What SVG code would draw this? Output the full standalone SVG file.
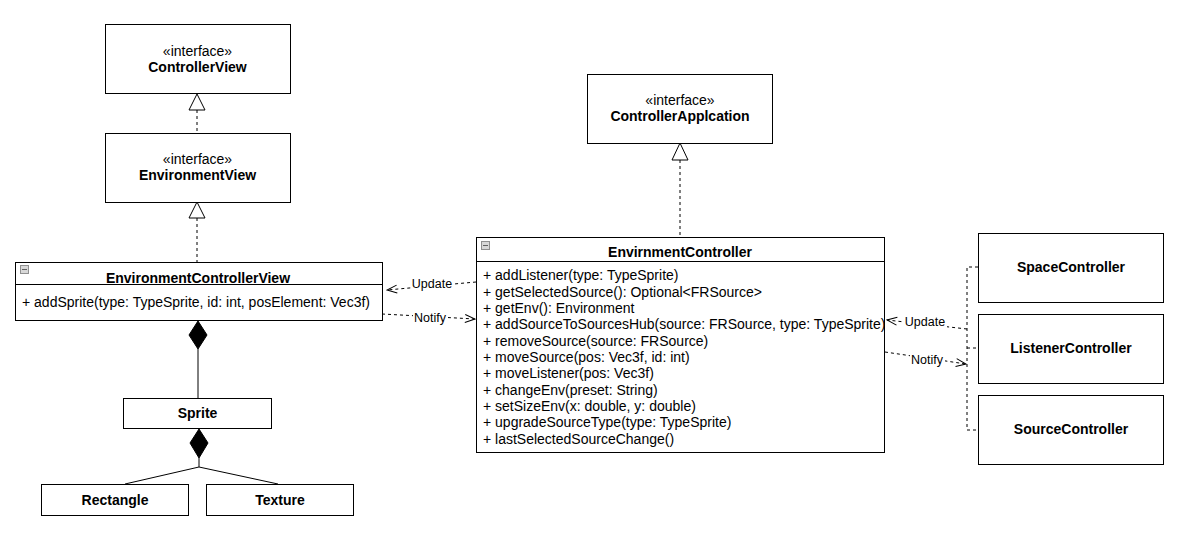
<svg xmlns="http://www.w3.org/2000/svg" width="1191" height="545" viewBox="0 0 1191 545">
  <style>
    .box { fill: #ffffff; stroke: #000000; stroke-width: 1; }
    .sep { stroke: #000000; stroke-width: 1; }
    .t { font-family: "Liberation Sans", Arial, sans-serif; font-size: 14px; fill: #000000; }
    .b { font-weight: bold; }
    .c { text-anchor: middle; }
    .lbl { font-family: "Liberation Sans", Arial, sans-serif; font-size: 12.5px; fill: #000000; text-anchor: middle; }
    .lblbg { fill: #ffffff; }
    .dash { fill: none; stroke: #000000; stroke-width: 1; stroke-dasharray: 3 3; }
    .solid { fill: none; stroke: #000000; stroke-width: 1; }
    .hollow { fill: #ffffff; stroke: #000000; stroke-width: 1; }
    .filled { fill: #000000; stroke: #000000; stroke-width: 1; }
    .icon { fill: #d8d8d8; stroke: #909090; stroke-width: 1; }
  </style>
  <defs>
    <marker id="open" viewBox="0 0 12 10" refX="11" refY="5" markerWidth="12" markerHeight="10" markerUnits="userSpaceOnUse" orient="auto">
      <path d="M1,1 L11,5 L1,9" fill="none" stroke="#000000" stroke-width="1"/>
    </marker>
  </defs>

  <!-- connectors -->
  <g id="connectors">
    <!-- realization: EnvironmentView -> ControllerView -->
    <line class="dash" x1="197" y1="110" x2="197" y2="133"/>
    <polygon class="hollow" points="197,94 205,110 189,110"/>
    <!-- realization: EnvironmentControllerView -> EnvironmentView -->
    <line class="dash" x1="197" y1="218" x2="197" y2="262"/>
    <polygon class="hollow" points="197,202 205,218 189,218"/>
    <!-- realization: EnvirnmentController -> ControllerApplcation -->
    <line class="dash" x1="680" y1="160" x2="680" y2="237"/>
    <polygon class="hollow" points="680,143 688,160 672,160"/>

    <!-- composition: EnvironmentControllerView <> Sprite -->
    <line class="solid" x1="198" y1="349" x2="198" y2="398"/>
    <polygon class="filled" points="198,321 207,335 198,349 189,335"/>
    <!-- composition: Sprite <> Rectangle / Texture -->
    <polyline class="solid" points="199,458 199,467 125,484"/>
    <line class="solid" x1="199" y1="467" x2="278" y2="484"/>
    <polygon class="filled" points="199,429 208,443 199,458 190,443"/>

    <!-- Update / Notify between EnvirnmentController and EnvironmentControllerView -->
    <line class="dash" x1="476" y1="282" x2="387" y2="290" marker-end="url(#open)"/>
    <rect class="lblbg" x="411" y="277" width="43" height="13"/>
    <text class="lbl" x="432" y="288">Update</text>
    <line class="dash" x1="382" y1="314" x2="475" y2="319" marker-end="url(#open)"/>
    <rect class="lblbg" x="413" y="311" width="35" height="13"/>
    <text class="lbl" x="430" y="322">Notify</text>

    <!-- bus joining the three controllers -->
    <polyline class="dash" points="978,267 967,267 967,430 978,430"/>
    <line class="dash" x1="967" y1="348" x2="978" y2="348"/>
    <!-- Update / Notify between controllers and EnvirnmentController -->
    <line class="dash" x1="967" y1="329" x2="887" y2="320" marker-end="url(#open)"/>
    <rect class="lblbg" x="904" y="315" width="43" height="13"/>
    <text class="lbl" x="925" y="326">Update</text>
    <line class="dash" x1="885" y1="352" x2="966" y2="364" marker-end="url(#open)"/>
    <rect class="lblbg" x="910" y="353" width="35" height="13"/>
    <text class="lbl" x="927" y="364">Notify</text>
  </g>

  <!-- interfaces -->
  <g id="ControllerView">
    <rect class="box" x="105.5" y="24.5" width="185" height="69"/>
    <text class="t c" x="197.5" y="56">«interface»</text>
    <text class="t b c" x="197.5" y="72">ControllerView</text>
  </g>
  <g id="EnvironmentView">
    <rect class="box" x="105.5" y="133.5" width="185" height="69"/>
    <text class="t c" x="197.5" y="164">«interface»</text>
    <text class="t b c" x="197.5" y="180">EnvironmentView</text>
  </g>
  <g id="ControllerApplcation">
    <rect class="box" x="587.5" y="74.5" width="185" height="69"/>
    <text class="t c" x="680" y="105">«interface»</text>
    <text class="t b c" x="680" y="121">ControllerApplcation</text>
  </g>

  <!-- classes -->
  <g id="EnvironmentControllerView">
    <rect class="box" x="15.5" y="262.5" width="367" height="58"/>
    <line class="sep" x1="15.5" y1="284.5" x2="382.5" y2="284.5"/>
    <rect class="icon" x="20.5" y="265.5" width="8" height="8"/>
    <line x1="22" y1="269.5" x2="27" y2="269.5" stroke="#606060" stroke-width="1"/>
    <text class="t b c" x="198" y="283">EnvironmentControllerView</text>
    <text class="t" x="22" y="307">+ addSprite(type: TypeSprite, id: int, posElement: Vec3f)</text>
  </g>

  <g id="EnvirnmentController">
    <rect class="box" x="476.5" y="237.5" width="408" height="215"/>
    <line class="sep" x1="476.5" y1="261.5" x2="884.5" y2="261.5"/>
    <rect class="icon" x="481.5" y="241.5" width="8" height="8"/>
    <line x1="483" y1="245.5" x2="488" y2="245.5" stroke="#606060" stroke-width="1"/>
    <text class="t b c" x="680" y="257">EnvirnmentController</text>
    <text class="t" x="483" y="280">+ addListener(type: TypeSprite)</text>
    <text class="t" x="483" y="296.5">+ getSelectedSource(): Optional&lt;FRSource&gt;</text>
    <text class="t" x="483" y="312.5">+ getEnv(): Environment</text>
    <text class="t" x="483" y="329">+ addSourceToSourcesHub(source: FRSource, type: TypeSprite)</text>
    <text class="t" x="483" y="345.5">+ removeSource(source: FRSource)</text>
    <text class="t" x="483" y="361.5">+ moveSource(pos: Vec3f, id: int)</text>
    <text class="t" x="483" y="378">+ moveListener(pos: Vec3f)</text>
    <text class="t" x="483" y="394.5">+ changeEnv(preset: String)</text>
    <text class="t" x="483" y="410.5">+ setSizeEnv(x: double, y: double)</text>
    <text class="t" x="483" y="427">+ upgradeSourceType(type: TypeSprite)</text>
    <text class="t" x="483" y="443.5">+ lastSelectedSourceChange()</text>
  </g>

  <g id="SpaceController">
    <rect class="box" x="978.5" y="233.5" width="185" height="69"/>
    <text class="t b c" x="1071" y="272">SpaceController</text>
  </g>
  <g id="ListenerController">
    <rect class="box" x="978.5" y="314.5" width="185" height="69"/>
    <text class="t b c" x="1071" y="353">ListenerController</text>
  </g>
  <g id="SourceController">
    <rect class="box" x="978.5" y="395.5" width="185" height="69"/>
    <text class="t b c" x="1071" y="434">SourceController</text>
  </g>

  <g id="Sprite">
    <rect class="box" x="123.5" y="398.5" width="148" height="30"/>
    <text class="t b c" x="197.5" y="418">Sprite</text>
  </g>
  <g id="Rectangle">
    <rect class="box" x="41.5" y="484.5" width="147" height="31"/>
    <text class="t b c" x="115" y="505">Rectangle</text>
  </g>
  <g id="Texture">
    <rect class="box" x="206.5" y="484.5" width="147" height="31"/>
    <text class="t b c" x="280" y="505">Texture</text>
  </g>
</svg>
